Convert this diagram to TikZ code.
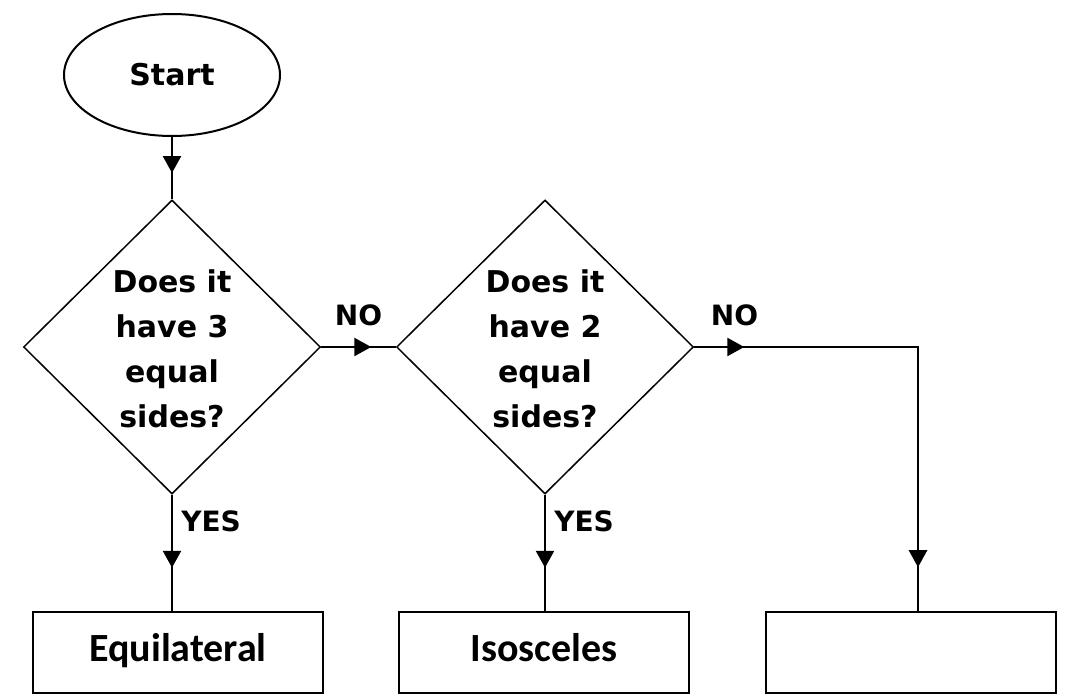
\documentclass[tikz,border=0pt]{standalone}
\usepackage{fontspec}
\setmainfont{DejaVu Sans}
\newfontfamily\boxfont{Carlito}
\usetikzlibrary{positioning,calc,shapes.geometric,arrows.meta,decorations.markings}
\tikzset{startnode/.style={draw,ellipse,line width=2pt,minimum width=216pt,minimum height=122pt,font=\bfseries\fontsize{30}{36}\selectfont}  }
\tikzset{decision/.style={draw,diamond,line width=1.5pt,minimum width=297pt,minimum height=294pt,inner sep=0pt}  }
\tikzset{qtext/.style={align=center,inner sep=0pt,font=\bfseries\fontsize{30}{45}\selectfont}  }
\tikzset{outbox/.style={draw,rectangle,line width=2pt,minimum width=290pt,minimum height=81pt,text height=26pt,text depth=8pt,font=\boxfont\bfseries\fontsize{40}{48}\selectfont}  }
\tikzset{lbl/.style={inner sep=3pt,font=\bfseries\fontsize{28}{32}\selectfont}  }
\tikzset{flow/.style={line width=2.5pt}  }
\tikzset{tipat/.style={postaction={decorate,decoration={markings,mark=at position #1 with {\arrow{Triangle[width=18pt,length=17pt]}}}}}  }

\begin{document}
\begin{tikzpicture}[x=1pt,y=-1pt]
	\useasboundingbox (0,0) rectangle (1065,698);
		\node[startnode] (start) at (172,75) {Start};
			\node[decision] (q1) at (172,347) {};
			\node[qtext] (q1t) at (172,349) {Does it\\have 3\\equal\\sides?};
			\node[decision] (q2) at (545,347) {};
			\node[qtext] (q2t) at (545,349) {Does it\\have 2\\equal\\sides?};
			\node[outbox] (equi) at (178,652) {Equilateral};
			\node[outbox] (isos) at (544,652) {Isosceles};
			\node[outbox] (other) at (911,652) {};
			\coordinate (turn) at (918,347);

			\draw[flow,tipat=36pt] (start) -- (q1);
			\draw[flow,tipat=50pt] (q1) -- node[above=17pt,lbl] {NO} (q2);
			\draw[flow,tipat=50pt,tipat=444pt] (q2) -- node[pos=0.18,above=17pt,lbl] {NO} (turn) -- (turn |- other.north);
			\draw[flow,tipat=73pt] (q1.south) -- node[pos=0.23,right=5pt,lbl] {YES} (q1.south |- equi.north);
			\draw[flow,tipat=73pt] (q2.south) -- node[pos=0.23,right=5pt,lbl] {YES} (q2.south |- isos.north);
	\end{tikzpicture}
\end{document}
